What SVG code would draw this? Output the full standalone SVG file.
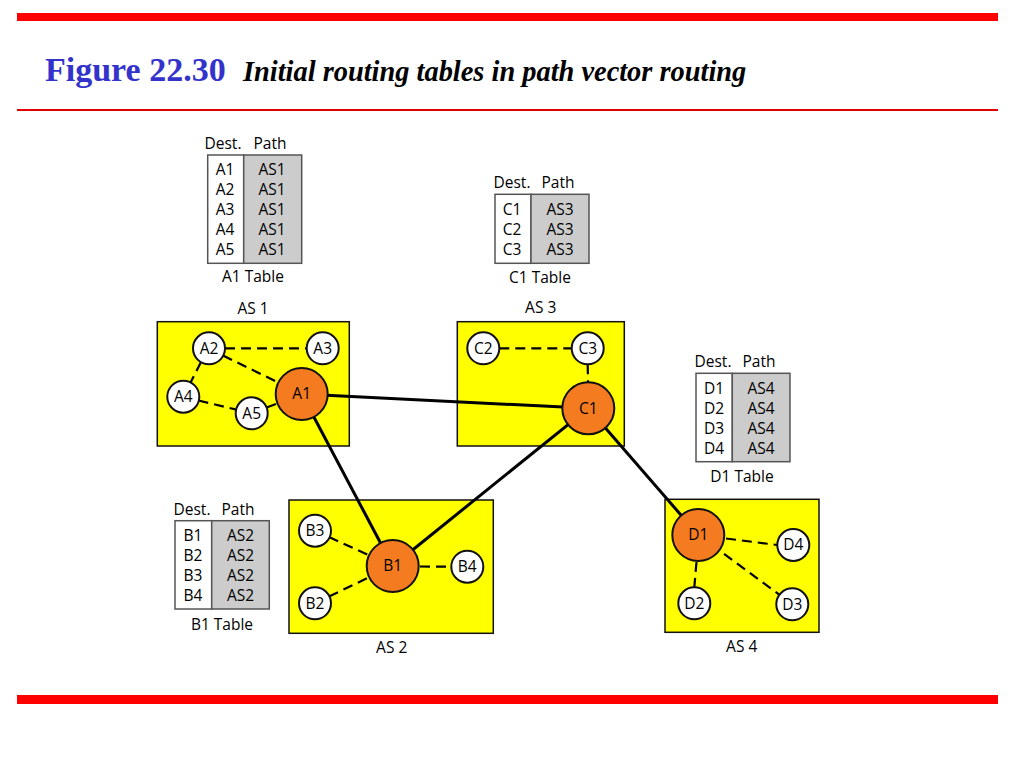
<svg xmlns="http://www.w3.org/2000/svg" width="1024" height="768" viewBox="0 0 1024 768">
<style>
.t{font-family:"Open Sans","Liberation Sans",sans-serif;font-size:15.5px;font-weight:500;fill:#000;text-anchor:middle}
.as{fill:#ffff00;stroke:#111;stroke-width:1.5}
.tl{fill:#fff;stroke:#555;stroke-width:1.5}
.tr{fill:#cccccc;stroke:#555;stroke-width:1.5}
.wn{fill:#fff;stroke:#111;stroke-width:2}
.on{fill:#f47b20;stroke:#111;stroke-width:2}
.sl{stroke:#000;stroke-width:3;fill:none}
.dl{stroke:#000;stroke-width:2.2;stroke-dasharray:10 6;fill:none}
</style>
<rect x="0" y="0" width="1024" height="768" fill="#fff"/>
<g id="frame">
<rect x="17" y="13" width="981" height="8" fill="#ff0000"/>
<rect x="17" y="109" width="981" height="2" fill="#e00000"/>
<rect x="17" y="695" width="981" height="9" fill="#ff0000"/>
<text x="45" y="81" font-family="Liberation Serif,serif" font-weight="bold" font-size="34" fill="#3333cc">Figure 22.30</text>
<text x="243" y="81" font-family="Liberation Serif,serif" font-weight="bold" font-style="italic" font-size="28.4" fill="#000">Initial routing tables in path vector routing</text>
</g>

<g id="tableA1">
<text class="t" x="223" y="148.5">Dest.</text><text class="t" x="270" y="148.5">Path</text>
<rect class="tl" x="207.7" y="155" width="36" height="108.3"/>
<rect class="tr" x="243.7" y="155" width="58" height="108.3"/>
<text class="t" x="225" y="175">A1</text><text class="t" x="272" y="175">AS1</text>
<text class="t" x="225" y="195">A2</text><text class="t" x="272" y="195">AS1</text>
<text class="t" x="225" y="215">A3</text><text class="t" x="272" y="215">AS1</text>
<text class="t" x="225" y="235">A4</text><text class="t" x="272" y="235">AS1</text>
<text class="t" x="225" y="255">A5</text><text class="t" x="272" y="255">AS1</text>
<text class="t" x="253" y="282">A1 Table</text>
</g>

<g id="tableC1">
<text class="t" x="512" y="188">Dest.</text><text class="t" x="558" y="188">Path</text>
<rect class="tl" x="495" y="194.3" width="36" height="69"/>
<rect class="tr" x="531" y="194.3" width="58" height="69"/>
<text class="t" x="512" y="214.7">C1</text><text class="t" x="560" y="214.7">AS3</text>
<text class="t" x="512" y="234.7">C2</text><text class="t" x="560" y="234.7">AS3</text>
<text class="t" x="512" y="254.7">C3</text><text class="t" x="560" y="254.7">AS3</text>
<text class="t" x="540" y="283">C1 Table</text>
</g>

<g id="tableD1">
<text class="t" x="713" y="367">Dest.</text><text class="t" x="759" y="367">Path</text>
<rect class="tl" x="696" y="373.3" width="36.3" height="88.4"/>
<rect class="tr" x="732.3" y="373.3" width="57.7" height="88.4"/>
<text class="t" x="714" y="393.5">D1</text><text class="t" x="761" y="393.5">AS4</text>
<text class="t" x="714" y="413.5">D2</text><text class="t" x="761" y="413.5">AS4</text>
<text class="t" x="714" y="433.5">D3</text><text class="t" x="761" y="433.5">AS4</text>
<text class="t" x="714" y="453.5">D4</text><text class="t" x="761" y="453.5">AS4</text>
<text class="t" x="742" y="482">D1 Table</text>
</g>

<g id="tableB1">
<text class="t" x="192" y="514.5">Dest.</text><text class="t" x="238" y="514.5">Path</text>
<rect class="tl" x="175" y="520.7" width="36.7" height="88.3"/>
<rect class="tr" x="211.7" y="520.7" width="57.6" height="88.3"/>
<text class="t" x="193" y="540.5">B1</text><text class="t" x="240.5" y="540.5">AS2</text>
<text class="t" x="193" y="560.5">B2</text><text class="t" x="240.5" y="560.5">AS2</text>
<text class="t" x="193" y="580.5">B3</text><text class="t" x="240.5" y="580.5">AS2</text>
<text class="t" x="193" y="600.5">B4</text><text class="t" x="240.5" y="600.5">AS2</text>
<text class="t" x="222" y="629.5">B1 Table</text>
</g>

<g id="AS1">
<rect class="as" x="157.3" y="321.7" width="192" height="124.3"/>
<text class="t" x="253" y="313.5">AS 1</text>
</g>
<g id="AS3">
<rect class="as" x="457.3" y="321.7" width="167" height="124.3"/>
<text class="t" x="540.7" y="312.7">AS 3</text>
</g>
<g id="AS2">
<rect class="as" x="289" y="500" width="204.3" height="133.3"/>
<text class="t" x="391.7" y="652.7">AS 2</text>
</g>
<g id="AS4">
<rect class="as" x="665" y="499.3" width="154" height="133"/>
<text class="t" x="741.7" y="652">AS 4</text>
</g>

<g id="connectors">
<line class="sl" x1="301.7" y1="394" x2="588.3" y2="408.3"/>
<line class="sl" x1="301.7" y1="394" x2="392.7" y2="566"/>
<line class="sl" x1="392.7" y1="566" x2="588.3" y2="408.3"/>
<line class="sl" x1="588.3" y1="408.3" x2="698.3" y2="535"/>
<line class="dl" x1="225" y1="348.3" x2="306.7" y2="348.3"/>
<line class="dl" x1="223" y1="355.5" x2="301.7" y2="394"/>
<line class="dl" x1="201" y1="362" x2="183.3" y2="396.7"/>
<line class="dl" x1="198.5" y1="400.5" x2="251.7" y2="413.3"/>
<line class="dl" x1="251.7" y1="413.3" x2="301.7" y2="394"/>
<line class="dl" x1="499.3" y1="348.3" x2="571.7" y2="348.3"/>
<line class="dl" x1="587.7" y1="364.3" x2="588" y2="382"/>
<line class="dl" x1="329" y1="537" x2="392.7" y2="566"/>
<line class="dl" x1="329" y1="596.5" x2="392.7" y2="566"/>
<line class="dl" x1="420" y1="566.5" x2="451.3" y2="566.7"/>
<line class="dl" x1="726" y1="538.5" x2="777.3" y2="545"/>
<line class="dl" x1="698.3" y1="535" x2="792.3" y2="604.3"/>
<line class="dl" x1="696.5" y1="562" x2="694.3" y2="587.3"/>
</g>

<g id="nodeA2"><circle class="wn" cx="209" cy="348.3" r="16"/><text class="t" x="209" y="353.7">A2</text></g>
<g id="nodeA3"><circle class="wn" cx="322.7" cy="348.3" r="16"/><text class="t" x="322.7" y="353.7">A3</text></g>
<g id="nodeA4"><circle class="wn" cx="183.3" cy="396.7" r="16"/><text class="t" x="183.3" y="402">A4</text></g>
<g id="nodeA5"><circle class="wn" cx="251.7" cy="413.3" r="16"/><text class="t" x="251.7" y="418.7">A5</text></g>
<g id="nodeA1"><circle class="on" cx="301.7" cy="394" r="26"/><text class="t" x="301.7" y="399.4">A1</text></g>

<g id="nodeC2"><circle class="wn" cx="483.3" cy="348.3" r="16"/><text class="t" x="483.3" y="353.7">C2</text></g>
<g id="nodeC3"><circle class="wn" cx="587.7" cy="348.3" r="16"/><text class="t" x="587.7" y="353.7">C3</text></g>
<g id="nodeC1"><circle class="on" cx="588.3" cy="408.3" r="26"/><text class="t" x="588.3" y="413.7">C1</text></g>

<g id="nodeB3"><circle class="wn" cx="315" cy="530.7" r="16"/><text class="t" x="315" y="536">B3</text></g>
<g id="nodeB2"><circle class="wn" cx="315" cy="603.3" r="16"/><text class="t" x="315" y="608.7">B2</text></g>
<g id="nodeB4"><circle class="wn" cx="467.3" cy="566.7" r="16"/><text class="t" x="467.3" y="572">B4</text></g>
<g id="nodeB1"><circle class="on" cx="392.7" cy="566" r="26"/><text class="t" x="392.7" y="571.4">B1</text></g>

<g id="nodeD4"><circle class="wn" cx="793.3" cy="545" r="16"/><text class="t" x="793.3" y="550.4">D4</text></g>
<g id="nodeD3"><circle class="wn" cx="792.3" cy="604.3" r="16"/><text class="t" x="792.3" y="609.7">D3</text></g>
<g id="nodeD2"><circle class="wn" cx="694.3" cy="603.3" r="16"/><text class="t" x="694.3" y="608.7">D2</text></g>
<g id="nodeD1"><circle class="on" cx="698.3" cy="535" r="26"/><text class="t" x="698.3" y="540.4">D1</text></g>
</svg>
